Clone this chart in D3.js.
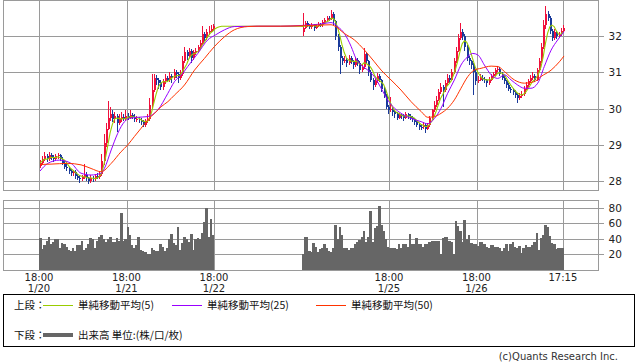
<!DOCTYPE html>
<html><head><meta charset="utf-8">
<script src="https://cdn.jsdelivr.net/npm/d3@7"></script>
<style>body{margin:0;background:#fff;} svg{display:block;}</style>
</head><body><svg id="c" width="638" height="362"></svg>
<script>
// ---- sessions: bars occupy slots [0..79] and [120..239] (30-min slots) ----
const sessionFirstSlot = [0, 120];
const sessionBars = [80, 120];

// ---- candles ----
const opens = [
28.42,28.50,28.62,28.70,28.60,28.72,28.65,28.60,28.68,28.72,
28.62,28.50,28.40,28.35,28.28,28.22,28.25,28.15,28.10,28.05,
28.12,28.18,28.08,28.00,28.10,28.05,28.15,28.12,28.20,28.55,
29.05,29.45,29.75,29.85,29.70,29.80,29.60,29.70,29.78,29.72,
29.80,29.75,29.82,29.78,29.70,29.72,29.68,29.62,29.55,29.65,
29.70,30.10,30.50,30.85,30.80,30.70,30.60,30.75,30.85,30.80,
30.90,30.85,31.00,30.95,30.85,30.95,31.30,31.55,31.45,31.60,
31.40,31.55,31.60,31.70,31.80,32.05,31.95,32.10,32.15,32.20,
32.10,32.22,32.35,32.30,32.25,32.30,32.22,32.28,32.32,32.30,
32.38,32.45,32.50,32.48,32.60,32.40,32.00,31.70,31.40,31.30,
31.35,31.25,31.40,31.30,31.20,31.35,31.25,31.05,31.15,31.50,
31.30,31.00,30.80,30.65,30.75,30.90,30.80,30.55,30.35,30.05,
29.95,30.00,29.90,29.85,29.75,29.82,29.80,29.75,29.85,29.80,
29.75,29.70,29.62,29.55,29.50,29.48,29.55,29.45,29.55,29.75,
29.95,30.10,30.25,30.45,30.60,30.50,30.70,30.85,30.80,31.00,
31.30,31.60,31.95,32.10,32.00,31.70,31.40,31.30,31.20,31.00,
30.75,30.80,30.85,30.82,30.78,30.70,30.80,30.90,30.95,31.05,
31.10,30.95,30.85,30.75,30.65,30.55,30.50,30.45,30.38,30.30,
30.35,30.40,30.55,30.65,30.75,30.85,30.90,30.80,31.05,31.30,
31.70,32.30,32.60,32.50,32.15,31.95,32.10,32.00,32.05,32.15];
const highs = [
28.58,28.70,28.80,28.76,28.80,28.78,28.72,28.75,28.78,28.76,
28.66,28.55,28.46,28.40,28.34,28.32,28.30,28.20,28.16,28.18,
28.46,28.24,28.12,28.16,28.14,28.20,28.22,28.28,28.75,29.30,
29.60,30.20,30.05,29.95,29.90,29.85,29.85,29.90,29.85,29.95,
29.88,29.95,29.88,29.84,29.80,29.78,29.74,29.68,29.72,29.85,
30.30,30.95,30.95,30.92,30.85,30.78,30.82,30.95,30.90,31.00,
30.96,31.10,31.05,31.00,31.05,31.45,31.70,31.62,31.68,31.64,
31.62,31.68,31.76,31.88,32.28,32.12,32.18,32.28,32.30,32.32,
32.62,32.42,32.40,32.34,32.36,32.34,32.32,32.38,32.36,32.44,
32.50,32.56,32.55,32.73,32.65,32.45,32.05,31.75,31.45,31.45,
31.40,31.48,31.45,31.35,31.42,31.40,31.30,31.22,31.66,31.55,
31.35,31.05,30.85,30.82,30.98,30.95,30.82,30.60,30.40,30.10,
30.33,30.05,29.95,29.90,29.88,29.86,29.84,29.90,29.88,29.85,
29.80,29.74,29.66,29.60,29.56,29.62,29.60,29.60,29.80,30.00,
30.20,30.35,30.55,30.70,30.65,30.80,30.95,30.92,31.10,31.40,
31.70,32.05,32.37,32.20,32.05,31.75,31.45,31.35,31.25,31.05,
30.90,30.95,30.92,30.88,30.82,30.86,30.96,31.02,31.12,31.18,
31.15,31.00,30.90,30.80,30.70,30.60,30.56,30.50,30.42,30.42,
30.48,30.62,30.72,30.82,30.92,31.00,30.95,31.12,31.40,31.80,
32.45,32.83,32.70,32.55,32.20,32.18,32.14,32.12,32.22,32.30];
const lows = [
28.36,28.45,28.56,28.52,28.55,28.58,28.54,28.55,28.62,28.55,
28.44,28.33,28.28,28.20,28.15,28.15,28.06,28.02,27.96,28.00,
28.05,28.00,27.92,27.95,27.97,28.00,28.05,28.06,28.15,28.45,
28.95,29.40,29.65,29.62,29.60,29.36,29.55,29.64,29.65,29.66,
29.68,29.70,29.70,29.64,29.62,29.60,29.55,29.48,29.50,29.60,
29.65,30.00,30.45,30.65,30.55,30.50,30.52,30.68,30.72,30.74,
30.70,30.78,30.85,30.70,30.80,30.90,31.25,31.35,31.40,31.25,
31.35,31.48,31.55,31.65,31.76,31.85,31.90,32.02,32.10,32.16,
32.00,32.18,32.24,32.18,32.20,32.15,32.18,32.24,32.25,32.26,
32.34,32.40,32.42,32.44,32.30,31.90,31.60,30.95,31.20,31.25,
31.15,31.20,31.22,31.10,31.15,31.18,30.95,31.00,31.10,31.25,
30.90,30.72,30.50,30.60,30.70,30.72,30.45,30.28,29.98,29.85,
29.90,29.80,29.75,29.68,29.72,29.72,29.66,29.70,29.72,29.68,
29.62,29.55,29.48,29.42,29.40,29.45,29.32,29.40,29.50,29.70,
29.90,30.05,30.20,30.40,30.05,30.45,30.65,30.70,30.75,30.95,
31.25,31.55,31.90,31.90,31.60,31.30,31.20,31.10,30.37,30.65,
30.70,30.75,30.75,30.70,30.60,30.65,30.75,30.85,30.90,31.00,
30.90,30.80,30.68,30.58,30.48,30.42,30.38,30.30,30.15,30.25,
30.30,30.35,30.50,30.60,30.70,30.80,30.72,30.75,31.00,31.25,
31.65,32.20,32.40,32.05,31.85,31.90,31.92,31.95,32.00,32.12];
const closes = [
28.50,28.62,28.70,28.60,28.72,28.65,28.60,28.68,28.72,28.62,
28.50,28.40,28.35,28.28,28.22,28.25,28.15,28.10,28.05,28.12,
28.18,28.08,28.00,28.10,28.05,28.15,28.12,28.20,28.55,29.05,
29.45,29.75,29.85,29.70,29.80,29.60,29.70,29.78,29.72,29.80,
29.75,29.82,29.78,29.70,29.72,29.68,29.62,29.55,29.65,29.70,
30.10,30.50,30.85,30.80,30.70,30.60,30.75,30.85,30.80,30.90,
30.85,31.00,30.95,30.85,30.95,31.30,31.55,31.45,31.60,31.40,
31.55,31.60,31.70,31.80,32.05,31.95,32.10,32.15,32.20,32.27,
32.22,32.35,32.30,32.25,32.30,32.22,32.28,32.32,32.30,32.38,
32.45,32.50,32.48,32.60,32.40,32.00,31.70,31.40,31.30,31.35,
31.25,31.40,31.30,31.20,31.35,31.25,31.05,31.15,31.50,31.30,
31.00,30.80,30.65,30.75,30.90,30.80,30.55,30.35,30.05,29.95,
30.00,29.90,29.85,29.75,29.82,29.80,29.75,29.85,29.80,29.75,
29.70,29.62,29.55,29.50,29.48,29.55,29.45,29.55,29.75,29.95,
30.10,30.25,30.45,30.60,30.50,30.70,30.85,30.80,31.00,31.30,
31.60,31.95,32.10,32.00,31.70,31.40,31.30,31.20,31.00,30.75,
30.80,30.85,30.82,30.78,30.70,30.80,30.90,30.95,31.05,31.10,
30.95,30.85,30.75,30.65,30.55,30.50,30.45,30.38,30.30,30.35,
30.40,30.55,30.65,30.75,30.85,30.90,30.80,31.05,31.30,31.70,
32.30,32.60,32.50,32.15,31.95,32.10,32.00,32.05,32.15,32.22];
const volumes = [
41,27,32,38,43,33,36,40,40,28,35,34,30,26,24,29,24,32,32,38,
26,28,34,41,40,28,38,42,45,40,36,40,42,36,36,41,38,73,38,40,
55,45,32,28,32,42,26,24,23,20,20,28,26,24,25,33,30,25,28,40,
46,35,32,56,26,35,43,40,36,46,26,40,41,40,48,62,80,43,66,45,
20,42,42,24,23,35,30,23,27,29,33,29,25,23,29,58,40,56,45,29,
28,26,28,29,33,36,39,42,50,36,42,76,36,54,57,82,58,50,40,30,
29,28,28,27,33,29,33,33,30,46,33,33,41,33,33,30,33,33,36,38,
38,38,38,20,41,43,42,38,36,20,63,57,50,36,65,40,45,35,34,33,
31,36,36,33,30,28,32,32,30,30,28,24,28,33,25,34,36,30,28,31,
22,29,32,30,30,32,36,48,26,41,45,58,56,44,35,33,27,28,29,29];

// ---- moving averages 25 / 50 (slot, value) ----
const ma25Slot = [0,3.5,8.8,14.2,18.7,23.3,27.9,29.4,32.5,35.5,38.6,40.8,44.6,49.2,53.8,58.4,61.4,65.2,67.5,72.1,76.6,80.2,84.3,88.8,100,110,119.3,128.4,133,136,139.1,142.2,144.4,146.7,149.8,152.8,155.9,158.9,162,165,169.6,174.2,177.2,180.3,183.3,186.3,189.4,192.4,195.5,197.8,200.1,203.1,206.2,209.2,212.3,215.3,218.3,221.4,224.4,227.5,230.5,233.6,236.6,239.5];
const ma25Val = [28.28,28.49,28.58,28.49,28.22,28.17,28.22,28.35,28.86,29.32,29.64,29.73,29.76,29.78,29.96,30.42,30.74,30.97,31.16,31.52,31.89,32.03,32.17,32.26,32.27,32.27,32.29,32.33,32.37,32.26,32.07,31.71,31.38,31.20,31.06,30.88,30.56,30.24,30.01,29.87,29.73,29.64,29.58,29.73,30.01,30.42,30.79,31.20,31.43,31.52,31.48,31.20,30.93,30.83,30.93,30.79,30.65,30.56,30.56,30.70,31.16,31.61,31.89,32.12];
const ma50Slot = [0,5,12.6,18.7,23.3,27.9,32.5,37,40.1,43.1,46.2,49.2,52.3,55.3,58.4,61.4,66,70.6,75.1,79.7,84.3,88.8,94.9,99.2,110,119.3,133,134.5,139.1,143.7,148.3,152.8,155.9,160.4,165,169.6,174.2,177.2,180.3,183.3,186.3,189.4,192.4,195.5,198.5,201.6,206.2,209.2,212.3,216.8,221.4,225.9,228.9,233.6,237.4,239.5];
const ma50Val = [28.46,28.47,28.49,28.45,28.35,28.26,28.49,28.81,29.00,29.23,29.46,29.69,29.87,30.05,30.19,30.37,30.65,31.06,31.38,31.71,31.98,32.17,32.26,32.27,32.27,32.28,32.31,32.28,32.07,31.89,31.61,31.29,31.06,30.79,30.51,30.19,29.92,29.76,29.78,29.87,30.01,30.24,30.56,30.88,31.06,31.11,31.17,31.16,31.02,30.79,30.70,30.74,30.88,31.06,31.29,31.45];

// ---- axis ticks / labels ----
const priceTicks = [28,29,30,31,32];
const volumeTicks = [20,40,60,80];
const xTickSlots = [0,40,80,160,200,239.5];
const xTickTimes = ["18:00","18:00","18:00","18:00","18:00","17:15"];
const xTickDates = ["1/20","1/21","1/22","1/25","1/26",""];
const legendTop = ["単純移動平均(5)","単純移動平均(25)","単純移動平均(50)"];
const legendColors = ["#99cc00","#9900ff","#ff3300"];

// ---- build bars ----
const bars = [];
let k = 0;
sessionFirstSlot.forEach((s0, si) => {
  for (let j = 0; j < sessionBars[si]; j++, k++) {
    bars.push({slot: s0 + j, o: opens[k], h: highs[k], l: lows[k], c: closes[k], v: volumes[k]});
  }
});
// close series over all slots (gap carries the last close) for SMA(5)
const closeBySlot = new Array(240).fill(null);
bars.forEach(b => closeBySlot[b.slot] = b.c);
for (let s = 1; s < 240; s++) if (closeBySlot[s] === null) closeBySlot[s] = closeBySlot[s-1];
const ma5 = closeBySlot.map((c, s) => {
  const w = closeBySlot.slice(Math.max(0, s-4), s+1);
  return {slot: s, v: d3.mean(w)};
});

const svg = d3.select('#c');
const L = 3.5, R = 598.5;
const x = d3.scaleLinear().domain([0,240]).range([39,564]);
const y = d3.scaleLinear().domain([27.757,32.978]).range([190,0.5]);
const yv = d3.scaleLinear().domain([0,89]).range([270,201]);
const step = x(1) - x(0);
const gridC = '#9a9a9a';
const cx = s => x(s + 0.5);

// legend box (drawn first so axis labels stay visible)
svg.append('rect').attr('x',3.5).attr('y',294.5).attr('width',631).attr('height',52).attr('fill','none').attr('stroke','#000').attr('shape-rendering','crispEdges');

// grid
const g = svg.append('g').attr('shape-rendering','crispEdges').attr('stroke',gridC).attr('stroke-width',1);
priceTicks.forEach(t => g.append('line').attr('x1',L).attr('x2',R).attr('y1',Math.round(y(t))+0.5).attr('y2',Math.round(y(t))+0.5));
volumeTicks.forEach(t => g.append('line').attr('x1',L).attr('x2',R).attr('y1',Math.round(yv(t))+0.5).attr('y2',Math.round(yv(t))+0.5));
xTickSlots.forEach(s => {
  const xx = Math.round(x(s)) + 0.5;
  g.append('line').attr('x1',xx).attr('x2',xx).attr('y1',0.5).attr('y2',190.5);
  g.append('line').attr('x1',xx).attr('x2',xx).attr('y1',200.5).attr('y2',270.5);
});

// volume bars
svg.append('g').attr('fill','#666666').attr('shape-rendering','crispEdges')
  .selectAll('rect').data(bars).join('rect')
  .attr('x', d => x(d.slot)).attr('width', step + 0.4)
  .attr('y', d => yv(d.v)).attr('height', d => yv(0) - yv(d.v));

// candles
const up = '#f0103c', dn = '#1a3a9a';
const cg = svg.append('g').attr('shape-rendering','crispEdges');
cg.selectAll('line').data(bars).join('line')
  .attr('x1', d => Math.round(cx(d.slot)) + 0.5).attr('x2', d => Math.round(cx(d.slot)) + 0.5)
  .attr('y1', d => y(d.h)).attr('y2', d => y(d.l))
  .attr('stroke', d => d.c >= d.o ? up : dn).attr('stroke-width',1);
cg.selectAll('rect').data(bars).join('rect')
  .attr('x', d => Math.round(cx(d.slot)) - 0.5).attr('width', 2)
  .attr('y', d => y(Math.max(d.o,d.c)))
  .attr('height', d => Math.max(1, Math.abs(y(d.o) - y(d.c))))
  .attr('fill', d => d.c >= d.o ? up : dn);

// moving averages
const line5 = d3.line().x(d => cx(d.slot)).y(d => y(d.v));
svg.append('path').datum(ma5).attr('d', line5).attr('fill','none').attr('stroke',legendColors[0]).attr('stroke-width',1.1);
const knotLine = d3.line().x(d => cx(d[0])).y(d => y(d[1])).curve(d3.curveMonotoneX);
svg.append('path').datum(d3.zip(ma25Slot, ma25Val)).attr('d', knotLine).attr('fill','none').attr('stroke',legendColors[1]).attr('stroke-width',1);
svg.append('path').datum(d3.zip(ma50Slot, ma50Val)).attr('d', knotLine).attr('fill','none').attr('stroke',legendColors[2]).attr('stroke-width',1);

// panel borders
svg.append('rect').attr('x',L).attr('y',0.5).attr('width',R-L).attr('height',190).attr('fill','none').attr('stroke',gridC).attr('shape-rendering','crispEdges');
svg.append('rect').attr('x',L).attr('y',200.5).attr('width',R-L).attr('height',70).attr('fill','none').attr('stroke',gridC).attr('shape-rendering','crispEdges');

// right axes
function styleAxis(sel) {
  sel.select('.domain').remove();
  sel.selectAll('line').attr('stroke', gridC).attr('shape-rendering','crispEdges');
  sel.selectAll('text').attr('fill','#222').style('font-family','"DejaVu Sans", sans-serif').style('font-size','10.5px');
}
svg.append('g').attr('transform',`translate(${R},0.5)`)
  .call(d3.axisRight(y).tickValues(priceTicks).tickSize(5).tickPadding(5).tickFormat(d3.format('d')))
  .call(styleAxis)
  .selectAll('.tick').attr('transform', d => `translate(0,${Math.round(y(d))})`);
svg.append('g').attr('transform',`translate(${R},0.5)`)
  .call(d3.axisRight(yv).tickValues(volumeTicks).tickSize(5).tickPadding(5).tickFormat(d3.format('d')))
  .call(styleAxis)
  .selectAll('.tick').attr('transform', d => `translate(0,${Math.round(yv(d))})`);

// x labels
const xl = svg.append('g').style('font-family','"DejaVu Sans", sans-serif').style('font-size','10px').attr('fill','#222').attr('text-anchor','middle');
xTickSlots.forEach((s, i) => {
  xl.append('text').attr('x', x(s)).attr('y', 280.5).text(xTickTimes[i]);
  if (xTickDates[i]) xl.append('text').attr('x', x(s)).attr('y', 292).text(xTickDates[i]);
});

// legend
const lg = svg.append('g').style('font-family','"Noto Sans CJK JP", sans-serif').style('font-size','10.5px').attr('fill','#111');
lg.append('text').attr('x',14).attr('y',309).text('上段：');
const lx = [43, 172, 316];
legendTop.forEach((t, i) => {
  lg.append('line').attr('x1',lx[i]).attr('x2',lx[i]+30).attr('y1',305.5).attr('y2',305.5).attr('stroke',legendColors[i]).attr('stroke-width',1).attr('shape-rendering','crispEdges');
  lg.append('text').attr('x',lx[i]+35).attr('y',309).text(t);
});
lg.append('text').attr('x',14).attr('y',339).text('下段：');
lg.append('line').attr('x1',43).attr('x2',73).attr('y1',335).attr('y2',335).attr('stroke','#666').attr('stroke-width',4);
lg.append('text').attr('x',78).attr('y',339).text('出来高 単位:(株/口/枚)');

svg.append('text').attr('x',618).attr('y',360).attr('text-anchor','end')
  .style('font-family','"DejaVu Sans", sans-serif').style('font-size','10px').attr('fill','#333')
  .text('(c)Quants Research Inc.');
</script></body></html>
